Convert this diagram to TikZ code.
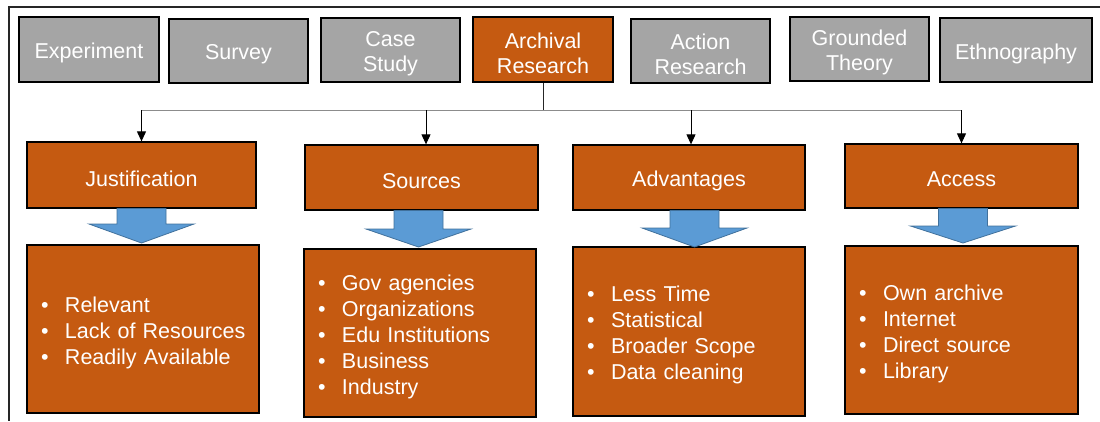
\documentclass[tikz,border=0pt]{standalone}
\usepackage{fontspec}
\setmainfont{Liberation Sans}
\usetikzlibrary{arrows.meta,calc}

\definecolor{boxorange}{HTML}{C55A11}
\definecolor{boxgray}{HTML}{A5A5A5}
\definecolor{arrowblue}{HTML}{5B9BD5}
\definecolor{arrowedge}{HTML}{41719C}
\definecolor{framegray}{HTML}{262626}
\definecolor{linkgray}{HTML}{8C8C8C}

% bullet item with a fixed indent for the text, kept on one line
\newcommand\itm[1]{\mbox{\makebox[24pt][l]{\textbullet}#1}}
% blue block arrow: centre x, top y, head y, tip y
\newcommand\blockarrow[4]{%
  \draw[downarrow] ({#1-24.5},#2) -- ({#1+24.5},#2) -- ({#1+24.5},#3) -- ({#1+52.5},#3)
    -- (#1,#4) -- ({#1-52.5},#3) -- ({#1-24.5},#3) -- cycle;}

\begin{document}
\begin{tikzpicture}[x=1pt,y=-1pt,
  box/.style={draw=black, line width=1.3pt, inner sep=0pt},
  boxtext/.style={text=white, font=\fontsize{21.5}{25}\selectfont, align=center,
                  inner sep=0pt, yshift=-3.5pt},
  listtext/.style={boxtext, font=\fontsize{21.5}{26}\selectfont, align=left, text width=#1},
  txt/.style={label={[boxtext]center:{#1}}},
  method/.style={box, fill=boxgray, txt={#1}},
  chosen/.style={box, fill=boxorange, txt={#1}},
  heading/.style={box, fill=boxorange, txt={#1}},
  listbox/.style 2 args={box, fill=boxorange, label={[listtext=#1]center:{#2}}},
  link/.style={line width=1pt, draw=linkgray},
  drop/.style={line width=1pt, draw=black, -{Triangle[length=10pt,width=9pt]}},
  downarrow/.style={fill=arrowblue, draw=arrowedge, line width=0.8pt},
]
\useasboundingbox (0,0) rectangle (1100,421);

% outer frame (open to the right and bottom)
\draw[framegray, line width=2pt] (1100,6.5) -- (9,6.5) -- (9,421);

% research methods
\node[method={Experiment},         minimum width=140pt, minimum height=65pt] (exp) at (89,49.5)  {};
\node[method={Survey},             minimum width=139pt, minimum height=64pt] (sur) at (238.5,51) {};
\node[method={Case\\Study},        minimum width=139pt, minimum height=64pt] (cas) at (390.5,50) {};
\node[chosen={Archival\\Research}, minimum width=140pt, minimum height=65pt] (arc) at (543,49.5) {};
\node[method={Action\\Research},   minimum width=139pt, minimum height=64pt] (act) at (700.5,51) {};
\node[method={Grounded\\Theory},   minimum width=139pt, minimum height=64pt] (gro) at (859.5,49) {};
\node[method={Ethnography},        minimum width=152pt, minimum height=64pt] (eth) at (1016,50)  {};

% aspects of archival research
\node[heading={Justification}, minimum width=229pt, minimum height=66pt] (jus) at (141.5,175)   {};
\node[heading={Sources},       minimum width=233pt, minimum height=65pt] (src) at (421.5,177.5) {};
\node[heading={Advantages},    minimum width=232pt, minimum height=65pt] (adv) at (689,177.5)   {};
\node[heading={Access},        minimum width=233pt, minimum height=64pt] (acc) at (961.5,176)   {};

% details
\node[listbox={204pt}{\itm{Relevant}\\\itm{Lack of Resources}\\\itm{Readily Available}},
      minimum width=232pt, minimum height=168pt] (jusl) at (143,329) {};
\node[listbox={204pt}{\itm{Gov agencies}\\\itm{Organizations}\\\itm{Edu Institutions}\\\itm{Business}\\\itm{Industry}},
      minimum width=232pt, minimum height=168pt] (srcl) at (420,333) {};
\node[listbox={204pt}{\itm{Less Time}\\\itm{Statistical}\\\itm{Broader Scope}\\\itm{Data cleaning}},
      minimum width=232pt, minimum height=169pt] (advl) at (689,331.5) {};
\node[listbox={205pt}{\itm{Own archive}\\\itm{Internet}\\\itm{Direct source}\\\itm{Library}},
      minimum width=233pt, minimum height=168pt] (accl) at (961.5,330) {};

% tree connectors
\coordinate (hub) at (543,110);
\draw[line width=1pt, draw=black!85] (arc.south) -- (hub);
\draw[link] (jus.north |- hub) -- (acc.north |- hub);
\draw[drop] (jus.north |- hub) -- (jus.north);
\draw[drop] ([xshift=4.5pt]src.north |- hub) -- ([xshift=4.5pt]src.north);
\draw[drop] ([xshift=2pt]adv.north |- hub) -- ([xshift=2pt]adv.north);
\draw[drop] (acc.north |- hub) -- (acc.north);

% block arrows from headings to details
\blockarrow{141.5}{208.5}{224}{243}
\blockarrow{418.5}{210.5}{229}{247}
\blockarrow{694.5}{210.5}{228}{247}
\blockarrow{963}{208.5}{226}{243}
\end{tikzpicture}
\end{document}
